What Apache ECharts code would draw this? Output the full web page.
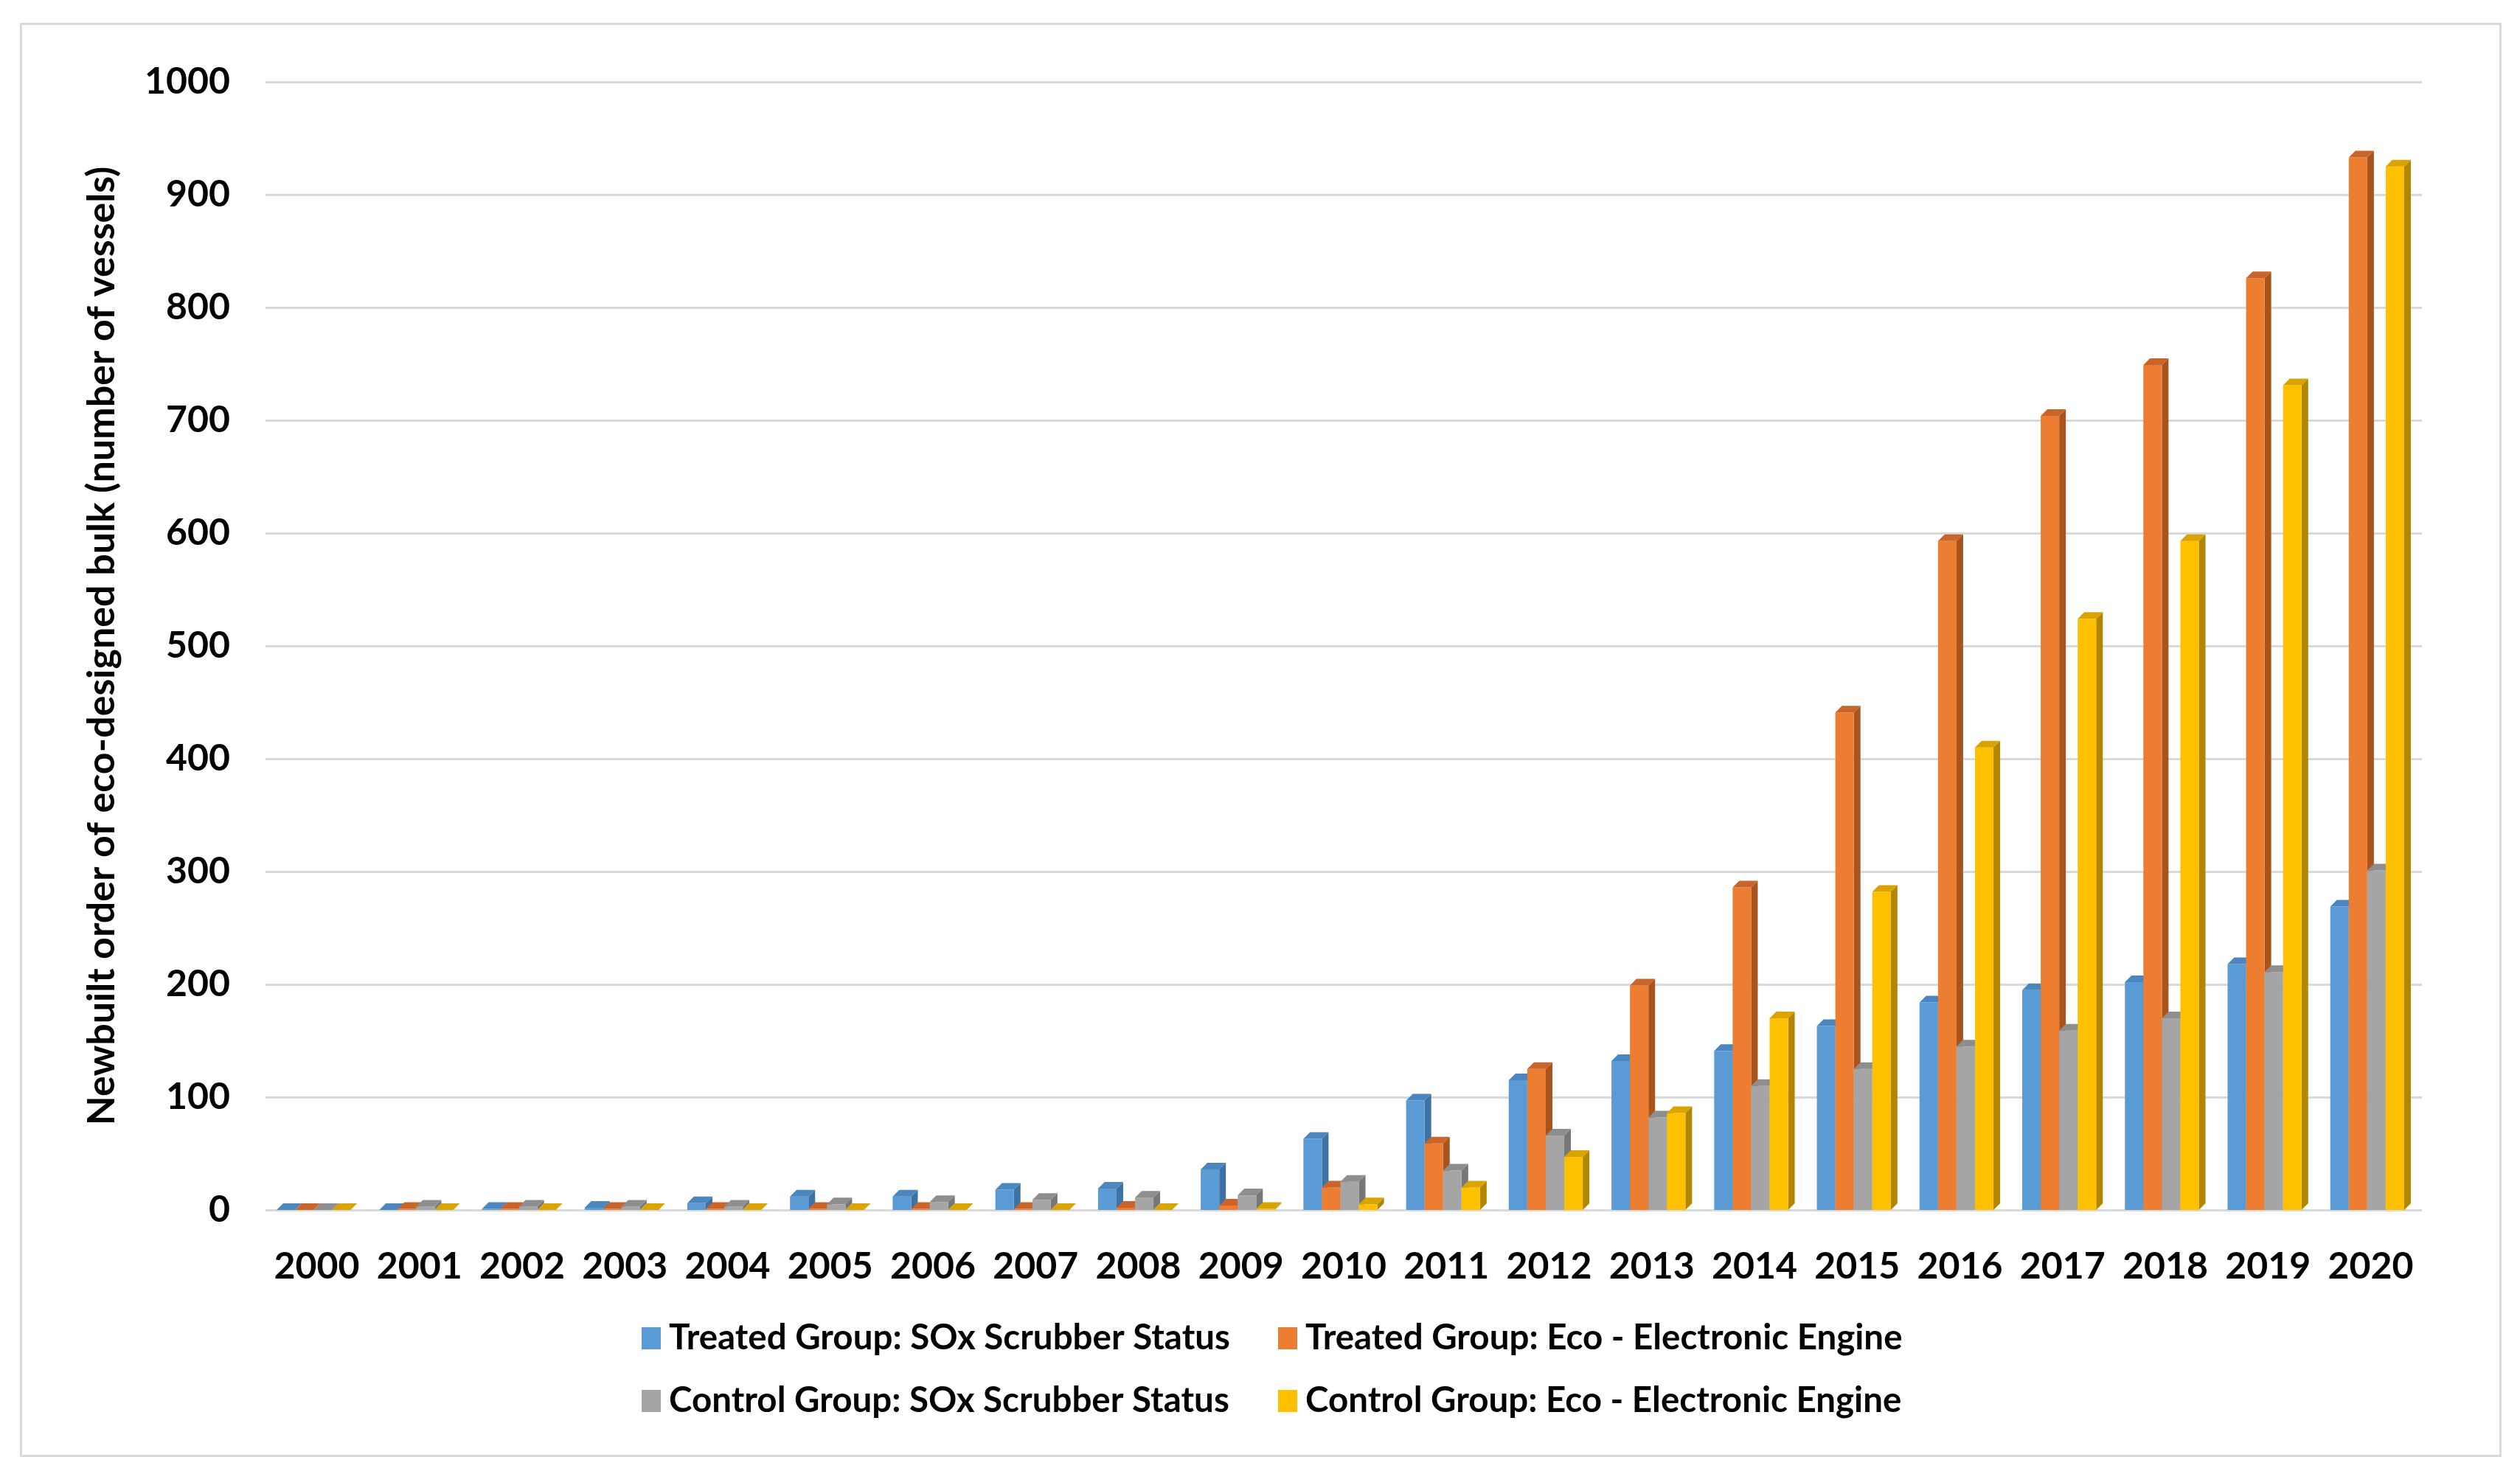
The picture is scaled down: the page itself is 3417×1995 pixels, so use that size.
<!DOCTYPE html>
<html>
<head>
<meta charset="utf-8">
<script src="https://cdn.jsdelivr.net/npm/echarts@6/dist/echarts.min.js"></script>
<style>
html,body{margin:0;padding:0;background:#fff;}
#chart{width:3417px;height:1995px;}
</style>
</head>
<body>
<div id="chart"></div>
<script>
const years = ['2000','2001','2002','2003','2004','2005','2006','2007','2008','2009','2010','2011','2012','2013','2014','2015','2016','2017','2018','2019','2020'];
const seriesNames = ['Treated Group: SOx Scrubber Status','Treated Group: Eco - Electronic Engine','Control Group: SOx Scrubber Status','Control Group: Eco - Electronic Engine'];
const treatedSOx = [0,0,1,2,6,12,12,18,19,36,63,97,115,132,141,163,184,195,202,218,269];
const treatedEco = [0,1,1,1,1,1,1,1,2,4,20,59,125,199,286,441,593,704,749,826,933];
const controlSOx = [0,3,3,3,3,5,7,9,11,13,25,35,66,82,110,125,145,159,170,211,301];
const controlEco = [0,0,0,0,0,0,0,0,0,1,5,20,47,86,170,282,410,524,593,731,925];
const yTicks = [0,100,200,300,400,500,600,700,800,900,1000];

const allValues = [treatedSOx, treatedEco, controlSOx, controlEco];
const palette = [
  {front:'#5B9BD5', side:'#3E72A3', top:'#4C86BE'},
  {front:'#ED7D31', side:'#A8541C', top:'#C9652A'},
  {front:'#A5A5A5', side:'#777777', top:'#8E8E8E'},
  {front:'#FFC000', side:'#B38600', top:'#D9A300'}
];
const BAR_RATIO = 0.18;
const DEPTH = 9;

function makeRender(si){
  const col = palette[si];
  return function(params, api){
    const cat = api.value(0), v = api.value(1);
    const c = api.coord([cat, 0]);
    const t = api.coord([cat, v]);
    const band = api.size([1, 0])[0];
    const bw = band * BAR_RATIO;
    const x0 = c[0] - 2*bw + si*bw - DEPTH/2;
    const x1 = x0 + bw;
    const y0 = c[1], y1 = t[1];
    const d = DEPTH;
    return {type:'group', children:[
      {type:'polygon', shape:{points:[[x1,y0],[x1+d,y0-d],[x1+d,y1-d],[x1,y1]]}, style:{fill:col.side}},
      {type:'rect', shape:{x:x0, y:y1, width:bw, height:y0-y1}, style:{fill:col.front}},
      {type:'polygon', shape:{points:[[x0,y1],[x0+d,y1-d],[x1+d,y1-d],[x1,y1]]}, style:{fill:col.top}}
    ]};
  };
}

const chart = echarts.init(document.getElementById('chart'), null, {renderer:'canvas'});
const font = 'Lato, "Open Sans", sans-serif';
const option = {
  backgroundColor:'#fff',
  animation:false,
  graphic:[{type:'rect', left:26, top:30, shape:{width:3362, height:1942}, style:{fill:'none', stroke:'#d9d9d9', lineWidth:3}, silent:true}],
  grid:{left:360, right:133, top:111, bottom:354},
  xAxis:{
    type:'category', data:years, boundaryGap:true,
    axisLine:{show:false}, axisTick:{show:false},
    axisLabel:{interval:0, color:'#000', fontFamily:font, fontWeight:'bold', fontSize:50, margin:52}
  },
  yAxis:{
    type:'value', min:0, max:1000, interval:100,
    name:'Newbuilt order of eco-designed bulk (number of vessels)',
    nameLocation:'middle', nameRotate:90, nameGap:196,
    nameTextStyle:{color:'#000', fontFamily:font, fontWeight:'bold', fontSize:52},
    axisLine:{show:false}, axisTick:{show:false},
    axisLabel:{color:'#000', fontFamily:font, fontWeight:'bold', fontSize:50, margin:48,
      formatter:function(v){ return yTicks.indexOf(v) >= 0 ? String(v) : ''; }},
    splitLine:{lineStyle:{color:'#d9d9d9', width:3}}
  },
  legend:[
    {data:[seriesNames[0], seriesNames[2]], orient:'vertical', left:865, top:1786, itemGap:37,
     itemWidth:26, itemHeight:30, icon:'rect',
     textStyle:{color:'#000', fontFamily:font, fontWeight:'bold', fontSize:47.5, padding:[0,0,0,6]}},
    {data:[seriesNames[1], seriesNames[3]], orient:'vertical', left:1728, top:1786, itemGap:37,
     itemWidth:26, itemHeight:30, icon:'rect',
     textStyle:{color:'#000', fontFamily:font, fontWeight:'bold', fontSize:47.5, padding:[0,0,0,6]}}
  ],
  series: allValues.map(function(vals, si){
    return {
      name: seriesNames[si], type:'custom',
      renderItem: makeRender(si),
      itemStyle:{color: palette[si].front},
      encode:{x:0, y:1},
      data: vals.map(function(v, i){ return [i, v]; })
    };
  })
};
chart.setOption(option);
</script>
</body>
</html>
